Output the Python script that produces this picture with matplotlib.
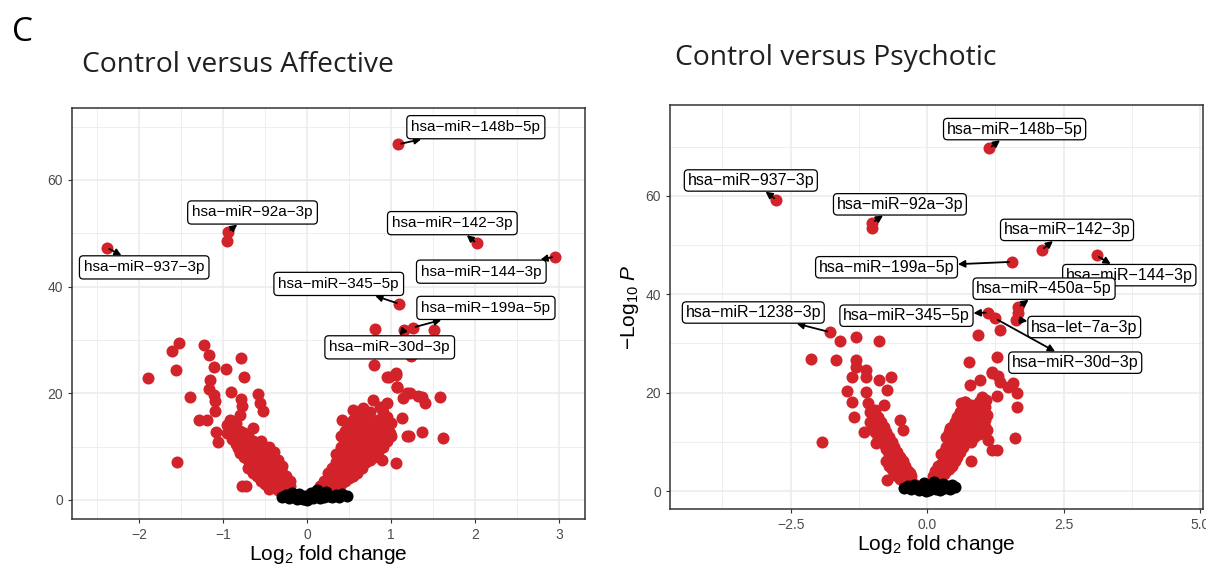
import numpy as np
import matplotlib
matplotlib.use('Agg')
import matplotlib.pyplot as plt
from matplotlib.ticker import MultipleLocator

# ---- Control versus Affective ----
aff_names = ['hsa−miR−148b−5p', 'hsa−miR−92a−3p', 'hsa−miR−937−3p', 'hsa−miR−142−3p',
             'hsa−miR−144−3p', 'hsa−miR−345−5p', 'hsa−miR−199a−5p', 'hsa−miR−30d−3p']
aff_name_lfc = [1.087, -0.94, -2.385, 2.02, 2.95, 1.10, 1.258, 1.155]
aff_name_logp = [66.7, 50.3, 47.3, 48.1, 45.6, 36.75, 32.3, 31.9]
aff_box_lfc = [2.01, -0.65, -1.94, 1.73, 2.075, 0.377, 2.13, 0.984]
aff_box_logp = [69.9, 53.9, 43.6, 51.9, 42.8, 40.5, 36.0, 28.6]

# other significant miRNAs (lfc, -log10 p)
aff_other = [(-0.95, 48.6), (0.81, 32.0), (1.51, 31.9), (1.235, 26.9), (0.80, 25.2),
             (-1.89, 22.9), (-1.61, 28.0), (-1.53, 29.4), (-1.56, 24.4), (-1.55, 7.1),
             (-1.40, 19.2), (-1.23, 29.1), (-1.17, 27.2), (-1.11, 25.0), (-1.16, 22.5),
             (-1.17, 20.7), (-1.11, 19.6), (-1.10, 18.5), (-1.095, 16.6), (-1.29, 14.9),
             (-1.19, 14.9), (-1.08, 12.8), (-1.06, 10.9), (-0.96, 24.6), (-0.79, 26.6),
             (-0.75, 23.1), (-0.91, 20.3), (-0.79, 18.9), (-0.78, 17.6), (-0.80, 15.9),
             (-0.587, 19.8), (-0.56, 18.1), (-0.53, 16.6), (-0.77, 2.5), (-0.73, 2.6),
             (-0.92, 15.0), (-0.93, 13.3), (-0.82, 9.75),
             (0.956, 23.1), (1.06, 23.75), (1.075, 21.1), (1.226, 20.0), (1.325, 19.5),
             (1.405, 18.1), (1.583, 19.2), (1.147, 19.1), (1.623, 11.6), (1.365, 12.8),
             (1.195, 12.0), (1.056, 6.9), (0.889, 7.5), (0.79, 18.75), (0.95, 18.1),
             (0.413, 15.0), (0.551, 16.9), (0.67, 17.2), (0.87, 17.5), (1.127, 15.3),
             (0.988, 12.5), (0.77, 13.75), (1.19, 20.0), (1.07, 21.25), (0.97, 23.1),
             (1.06, 23.4), (1.37, 19.3), (1.21, 11.9)]
aff_down = [(-0.95, 14.0), (-0.95, 12.5), (-0.90, 14.8), (-0.90, 13.0), (-0.90, 11.5),
            (-0.85, 14.5), (-0.85, 13.5), (-0.85, 12.0), (-0.85, 10.5),
            (-0.80, 13.0), (-0.80, 11.5), (-0.80, 10.0), (-0.80, 8.8),
            (-0.75, 12.5), (-0.75, 11.0), (-0.75, 9.5), (-0.75, 8.0),
            (-0.70, 12.0), (-0.70, 10.5), (-0.70, 9.0), (-0.70, 7.5), (-0.70, 6.0),
            (-0.65, 13.5), (-0.65, 11.0), (-0.65, 9.5), (-0.65, 8.0), (-0.65, 6.5), (-0.65, 5.0),
            (-0.60, 10.5), (-0.60, 9.0), (-0.60, 7.5), (-0.60, 6.0), (-0.60, 4.5),
            (-0.55, 11.0), (-0.55, 9.5), (-0.55, 8.0), (-0.55, 6.5), (-0.55, 5.0), (-0.55, 3.5),
            (-0.50, 9.0), (-0.50, 7.5), (-0.50, 6.0), (-0.50, 4.5), (-0.50, 3.0),
            (-0.45, 10.0), (-0.45, 8.0), (-0.45, 6.5), (-0.45, 5.0), (-0.45, 3.5), (-0.45, 2.0),
            (-0.40, 9.0), (-0.40, 7.0), (-0.40, 5.5), (-0.40, 4.0), (-0.40, 2.5),
            (-0.35, 7.5), (-0.35, 6.0), (-0.35, 4.5), (-0.35, 3.0), (-0.35, 1.8),
            (-0.30, 6.3), (-0.30, 5.0), (-0.30, 3.5), (-0.30, 2.2),
            (-0.25, 4.5), (-0.25, 3.2), (-0.25, 2.0), (-0.20, 3.5), (-0.20, 2.5)]
aff_up = [(0.15, 1.5), (0.15, 2.5), (0.20, 2.0), (0.20, 3.5), (0.25, 2.5), (0.25, 4.0), (0.25, 5.0),
          (0.30, 3.0), (0.30, 4.5), (0.30, 6.0),
          (0.35, 2.5), (0.35, 4.0), (0.35, 5.5), (0.35, 7.0), (0.35, 8.5),
          (0.40, 3.0), (0.40, 5.0), (0.40, 6.5), (0.40, 8.0), (0.40, 10.0), (0.40, 12.0),
          (0.45, 3.5), (0.45, 5.5), (0.45, 7.0), (0.45, 9.0), (0.45, 11.0), (0.45, 13.0),
          (0.50, 4.0), (0.50, 6.0), (0.50, 8.0), (0.50, 10.0), (0.50, 12.0), (0.50, 14.0),
          (0.55, 4.5), (0.55, 6.5), (0.55, 8.5), (0.55, 10.5), (0.55, 12.5), (0.55, 15.0),
          (0.60, 5.0), (0.60, 7.0), (0.60, 9.0), (0.60, 11.0), (0.60, 13.5), (0.60, 16.0),
          (0.65, 6.0), (0.65, 8.0), (0.65, 10.0), (0.65, 12.0), (0.65, 14.0),
          (0.70, 7.0), (0.70, 9.0), (0.70, 11.0), (0.70, 13.0), (0.70, 15.5),
          (0.75, 7.5), (0.75, 9.5), (0.75, 11.5), (0.75, 14.0), (0.75, 16.5),
          (0.80, 8.0), (0.80, 10.0), (0.80, 12.0), (0.80, 14.5),
          (0.85, 9.0), (0.85, 11.0), (0.85, 13.0), (0.85, 15.0),
          (0.90, 10.0), (0.90, 12.5), (0.90, 14.5), (0.90, 16.5),
          (0.95, 11.0), (0.95, 13.5), (0.95, 15.5), (1.00, 12.0), (1.00, 14.5)]
aff_ns = [(-0.30, 0.5), (-0.25, 0.9), (-0.22, 0.3), (-0.18, 1.2), (-0.15, 0.6), (-0.12, 0.2),
          (-0.10, 1.0), (-0.07, 0.4), (-0.05, 0.1), (-0.03, 0.7), (0.0, 0.0), (0.02, 0.5),
          (0.05, 1.2), (0.07, 0.3), (0.10, 0.8), (0.12, 1.8), (0.15, 0.4), (0.18, 1.1),
          (0.20, 0.6), (0.23, 1.4), (0.26, 0.8), (0.30, 0.5), (0.35, 0.9), (0.38, 0.6),
          (0.47, 0.75), (0.42, 1.1)]

# ---- Control versus Psychotic ----
psy_names = ['hsa−miR−148b−5p', 'hsa−miR−937−3p', 'hsa−miR−92a−3p', 'hsa−miR−142−3p',
             'hsa−miR−199a−5p', 'hsa−miR−144−3p', 'hsa−miR−450a−5p', 'hsa−miR−1238−3p',
             'hsa−miR−345−5p', 'hsa−let−7a−3p', 'hsa−miR−30d−3p']
psy_name_lfc = [1.14, -2.76, -1.005, 2.095, 1.55, 3.10, 1.67, -1.78, 1.12, 1.63, 1.245]
psy_name_logp = [69.7, 59.2, 54.6, 49.0, 46.6, 47.9, 37.4, 32.3, 36.3, 34.8, 35.1]
psy_box_lfc = [1.60, -3.23, -0.50, 2.56, -0.745, 3.70, 2.14, -3.185, -0.38, 2.875, 2.71]
psy_box_logp = [73.6, 63.15, 58.3, 53.1, 45.5, 43.9, 41.15, 36.3, 35.65, 33.35, 26.1]

psy_other = [(-1.02, 53.4), (1.66, 36.1), (1.33, 32.7), (0.93, 31.7), (1.275, 27.2), (0.765, 26.3),
             (-1.60, 30.5), (-1.295, 31.4), (-0.88, 30.5), (-2.12, 26.8), (-1.67, 26.6),
             (-1.295, 26.6), (-1.295, 25.3), (-1.12, 24.6), (-1.37, 23.25), (-1.12, 23.25),
             (-0.88, 22.6), (-0.655, 23.25), (-0.73, 20.5), (-1.47, 20.3), (-1.13, 20.1),
             (-1.37, 18.0), (-1.08, 17.8), (-0.795, 17.5), (-1.345, 15.1), (-1.16, 12.1),
             (-1.925, 10.0), (-0.94, 15.1), (-0.50, 14.4), (-0.44, 12.4), (-0.93, 9.7),
             (-0.685, 7.0), (-0.745, 2.2), (-0.635, 4.6), (-0.32, 3.6),
             (1.18, 24.3), (0.96, 22.6), (0.78, 21.6), (1.33, 22.2), (1.57, 21.9),
             (1.635, 19.9), (1.635, 17.1), (1.60, 10.7), (1.27, 19.3), (1.085, 18.5),
             (0.69, 18.2), (0.41, 12.75), (1.27, 8.3), (1.115, 10.4), (1.055, 13.1),
             (0.72, 14.4), (0.505, 9.0), (0.353, 5.6), (1.30, 23.3), (1.19, 23.9),
             (1.475, 21.2), (1.19, 8.3), (0.80, 6.0), (1.01, 19.2), (0.62, 17.8), (0.80, 15.9)]
psy_down = [(-1.05, 16.0), (-1.05, 14.0), (-1.00, 15.0), (-1.00, 13.0),
            (-0.95, 16.5), (-0.95, 14.0), (-0.95, 12.0), (-0.90, 15.0), (-0.90, 13.0), (-0.90, 11.0),
            (-0.85, 14.0), (-0.85, 12.5), (-0.85, 10.5), (-0.80, 13.0), (-0.80, 11.5), (-0.80, 9.5),
            (-0.75, 12.0), (-0.75, 10.5), (-0.75, 8.5), (-0.75, 6.0),
            (-0.70, 11.0), (-0.70, 9.5), (-0.70, 7.5), (-0.70, 5.0),
            (-0.65, 10.0), (-0.65, 8.5), (-0.65, 6.5), (-0.65, 4.5),
            (-0.60, 9.0), (-0.60, 7.5), (-0.60, 5.5), (-0.60, 3.5),
            (-0.55, 8.0), (-0.55, 6.5), (-0.55, 4.5), (-0.55, 3.0),
            (-0.50, 7.0), (-0.50, 5.5), (-0.50, 4.0), (-0.50, 2.5),
            (-0.45, 6.0), (-0.45, 4.5), (-0.45, 3.0), (-0.40, 5.0), (-0.40, 3.5), (-0.40, 2.5),
            (-0.35, 4.0), (-0.35, 2.5), (-0.30, 3.0), (-0.30, 2.0), (-0.25, 1.5)]
psy_up = [(0.10, 1.5), (0.10, 3.0), (0.15, 2.0), (0.15, 4.0), (0.20, 1.5), (0.20, 2.5), (0.20, 5.0),
          (0.25, 3.0), (0.25, 5.5), (0.25, 7.5), (0.30, 3.5), (0.30, 6.0), (0.30, 8.0),
          (0.35, 4.0), (0.35, 6.5), (0.35, 9.0), (0.35, 11.0),
          (0.40, 4.5), (0.40, 7.0), (0.40, 9.5), (0.40, 12.0),
          (0.45, 5.0), (0.45, 8.0), (0.45, 10.5), (0.45, 13.0),
          (0.50, 6.0), (0.50, 9.0), (0.50, 11.5), (0.50, 14.0),
          (0.55, 7.0), (0.55, 10.0), (0.55, 12.5), (0.55, 15.0),
          (0.60, 8.0), (0.60, 11.0), (0.60, 13.5), (0.60, 16.0),
          (0.65, 9.0), (0.65, 12.0), (0.65, 14.5), (0.65, 17.0),
          (0.70, 10.0), (0.70, 13.0), (0.70, 15.5), (0.70, 18.0),
          (0.75, 11.0), (0.75, 14.0), (0.75, 16.5),
          (0.80, 10.0), (0.80, 12.0), (0.80, 15.0), (0.80, 17.5),
          (0.85, 11.0), (0.85, 13.0), (0.85, 16.0), (0.90, 12.0), (0.90, 14.0), (0.90, 17.0),
          (0.95, 11.5), (0.95, 15.0), (0.95, 18.0), (1.00, 13.0), (1.00, 16.0), (1.00, 19.0),
          (1.05, 14.5), (1.05, 17.0), (1.10, 12.5), (1.10, 15.5)]
psy_ns = [(-0.42, 0.6), (-0.35, 1.0), (-0.30, 0.4), (-0.25, 1.3), (-0.20, 0.7), (-0.15, 0.2),
          (-0.12, 1.1), (-0.08, 0.5), (-0.05, 1.6), (-0.02, 0.1), (0.0, 0.8), (0.03, 0.3),
          (0.06, 1.2), (0.10, 0.6), (0.13, 1.8), (0.16, 0.4), (0.20, 1.0), (0.24, 0.3),
          (0.28, 1.4), (0.32, 0.7), (0.36, 1.1), (0.41, 0.5), (0.50, 0.9), (0.45, 1.3)]

RED = '#D2232A'
plt.rcParams['font.family'] = ['Liberation Sans', 'DejaVu Sans']
plt.rcParams['mathtext.fontset'] = 'custom'
plt.rcParams['mathtext.rm'] = 'Liberation Sans'
plt.rcParams['mathtext.it'] = 'Liberation Sans:italic'


def volcano(ax, groups, ns, names, nx, ny, bx, by, xlim, ylim, xstep, fs, pad):
    ax.set_xlim(xlim)
    ax.set_ylim(ylim)
    ax.xaxis.set_major_locator(MultipleLocator(xstep))
    ax.xaxis.set_minor_locator(MultipleLocator(xstep / 2))
    ax.yaxis.set_major_locator(MultipleLocator(20))
    ax.yaxis.set_minor_locator(MultipleLocator(10))
    ax.grid(which='major', color='#EBEBEB', lw=1.1)
    ax.grid(which='minor', color='#EBEBEB', lw=0.6)
    ax.set_axisbelow(True)
    for g in groups:
        arr = np.array(g)
        ax.scatter(arr[:, 0], arr[:, 1], s=75, c=RED, lw=0, zorder=2)
    ax.scatter(nx, ny, s=75, c=RED, lw=0, zorder=2)
    arr = np.array(ns)
    ax.scatter(arr[:, 0], arr[:, 1], s=75, c='black', lw=0, zorder=3)
    for i, name in enumerate(names):
        ax.annotate(name, xy=(nx[i], ny[i]), xytext=(bx[i], by[i]), ha='center', va='center',
                    fontsize=fs, zorder=5 + i,
                    bbox=dict(boxstyle='round,pad=%s,rounding_size=0.25' % pad, fc='white',
                              ec='black', lw=0.9),
                    arrowprops=dict(arrowstyle='<|-,head_length=0.35,head_width=0.18',
                                    color='black', lw=1.3, shrinkA=0, shrinkB=2))
    for sp in ax.spines.values():
        sp.set_color('#333333')
        sp.set_linewidth(1.1)
    ax.tick_params(which='major', length=3, width=0.8, color='#333333',
                   labelcolor='#4D4D4D', labelsize=10)
    ax.tick_params(which='minor', length=0)
    ax.set_xlabel('Log$_2$ fold change', fontsize=15, labelpad=1)


fig = plt.figure(figsize=(12.06, 5.68), dpi=100)
ax1 = fig.add_axes([72 / 1206, 49 / 568, 513 / 1206, 411 / 568])
ax2 = fig.add_axes([670 / 1206, 59 / 568, 533 / 1206, 404 / 568])

volcano(ax1, [aff_other, aff_down, aff_up], aff_ns, aff_names, aff_name_lfc, aff_name_logp,
        aff_box_lfc, aff_box_logp, (-2.80, 3.31), (-3.6, 73.5), 1, 11, 0.3)
volcano(ax2, [psy_other, psy_down, psy_up], psy_ns, psy_names, psy_name_lfc, psy_name_logp,
        psy_box_lfc, psy_box_logp, (-4.71, 5.05), (-3.66, 78.5), 2.5, 11.5, 0.2)
ax2.set_ylabel('−Log$_{10}$ $\\it{P}$', fontsize=15, labelpad=3)

fig.text(12 / 1206, 1 - 41 / 568, 'C', fontsize=24, family='Open Sans', va='baseline')
fig.text(82 / 1206, 1 - 72 / 568, 'Control versus Affective', fontsize=20.3,
         family='Open Sans', va='baseline', color='#231F20')
fig.text(675 / 1206, 1 - 65 / 568, 'Control versus Psychotic', fontsize=20.3,
         family='Open Sans', va='baseline', color='#231F20')

fig.savefig('out.png', dpi=100)
